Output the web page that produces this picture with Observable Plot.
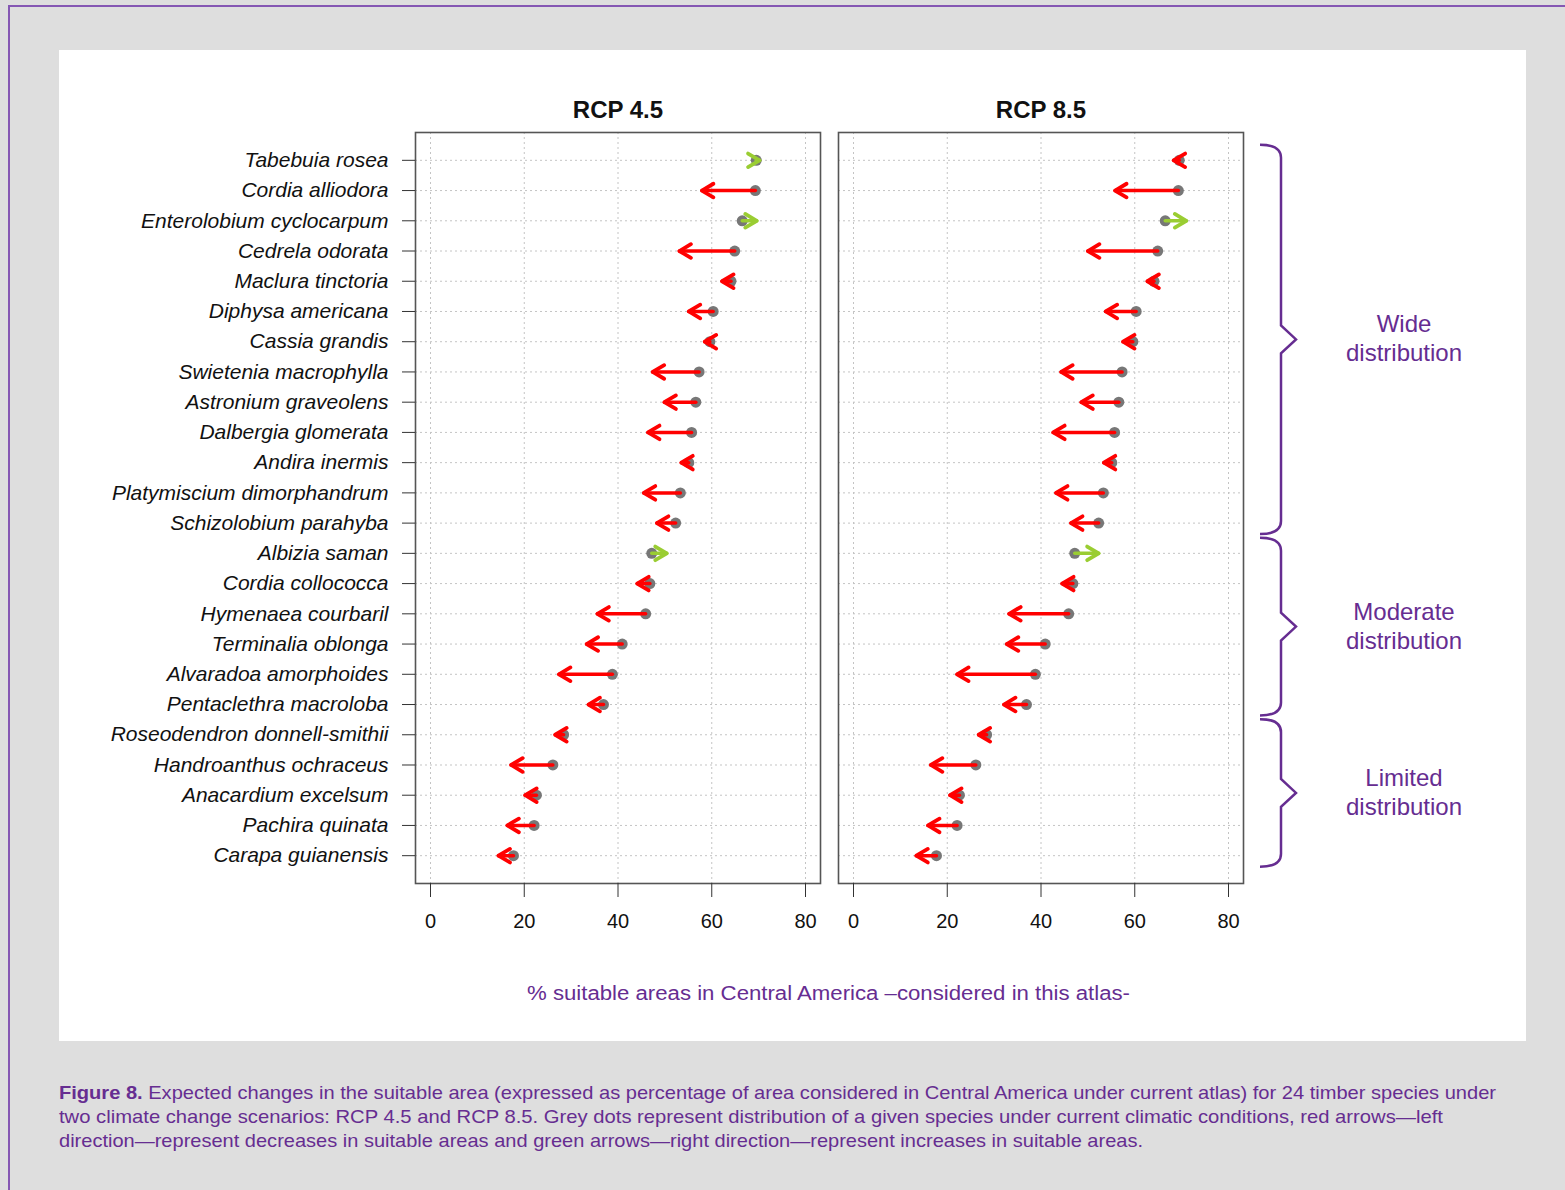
<!DOCTYPE html>
<html>
<head>
<meta charset="utf-8">
<script src="https://cdn.jsdelivr.net/npm/d3@7"></script>
<script src="https://cdn.jsdelivr.net/npm/@observablehq/plot@0.6"></script>
<style>
  html, body { margin: 0; padding: 0; background: #dedede; }
  #page { position: relative; width: 1565px; height: 1190px; background: #dedede; overflow: hidden; font-family: "Liberation Sans", Arial, sans-serif; }
  #border { position: absolute; left: 8px; top: 5px; width: 1700px; height: 1400px; border-left: 2px solid #8557b3; border-top: 2px solid #8557b3; }
  #panel { position: absolute; left: 59px; top: 50px; width: 1467px; height: 991px; background: #fff; }
  #chart { position: absolute; left: 59px; top: 50px; }
  #overlay { position: absolute; left: 0; top: 0; pointer-events: none; }
</style>
</head>
<body>
<div id="page">
  <div id="border"></div>
  <div id="panel"></div>
  <div id="chart"></div>
  <svg id="overlay" width="1565" height="1190"></svg>
</div>
<script>
// ---------------- data ----------------
const scenarios = ["RCP 4.5", "RCP 8.5"];
const species = [
  "Tabebuia rosea", "Cordia alliodora", "Enterolobium cyclocarpum", "Cedrela odorata",
  "Maclura tinctoria", "Diphysa americana", "Cassia grandis", "Swietenia macrophylla",
  "Astronium graveolens", "Dalbergia glomerata", "Andira inermis", "Platymiscium dimorphandrum",
  "Schizolobium parahyba", "Albizia saman", "Cordia collococca", "Hymenaea courbaril",
  "Terminalia oblonga", "Alvaradoa amorphoides", "Pentaclethra macroloba",
  "Roseodendron donnell-smithii", "Handroanthus ochraceus", "Anacardium excelsum",
  "Pachira quinata", "Carapa guianensis"
];
// % suitable area under current climate
const current = [69.5, 69.3, 66.5, 64.9, 64.1, 60.3, 59.6, 57.3, 56.6, 55.7, 55.1, 53.3,
                 52.3, 47.2, 46.8, 45.9, 40.9, 38.8, 36.9, 28.4, 26.1, 22.6, 22.1, 17.7];
// % suitable area in the future, RCP 4.5
const future45 = [70.2, 57.9, 69.6, 53.1, 62.2, 55.1, 58.5, 47.4, 49.9, 46.4, 53.5, 45.5,
                  48.3, 50.4, 44.1, 35.6, 33.3, 27.4, 33.7, 26.6, 17.2, 20.2, 16.4, 14.5];
// % suitable area in the future, RCP 8.5
const future85 = [68.3, 55.8, 71.0, 50.0, 62.7, 53.8, 57.5, 44.3, 48.6, 42.6, 53.4, 43.2,
                  46.4, 52.3, 44.5, 33.2, 32.7, 22.1, 32.1, 26.7, 16.5, 20.6, 15.9, 13.4];
const xTicks = [0, 20, 40, 60, 80];
const groups = [
  { label: ["Wide", "distribution"], from: "Tabebuia rosea", to: "Schizolobium parahyba" },
  { label: ["Moderate", "distribution"], from: "Albizia saman", to: "Pentaclethra macroloba" },
  { label: ["Limited", "distribution"], from: "Roseodendron donnell-smithii", to: "Carapa guianensis" }
];
const axisTitle = "% suitable areas in Central America \u2013considered in this atlas-";
const captionBold = "Figure 8.";
const captionLines = [
  " Expected changes in the suitable area (expressed as percentage of area considered in Central America under current atlas) for 24 timber species under",
  "two climate change scenarios: RCP 4.5 and RCP 8.5. Grey dots represent distribution of a given species under current climatic conditions, red arrows\u2014left",
  "direction\u2014represent decreases in suitable areas and green arrows\u2014right direction\u2014represent increases in suitable areas."
];

// ---------------- build table ----------------
const futures = { "RCP 4.5": future45, "RCP 8.5": future85 };
const rows = [];
for (const s of scenarios) {
  species.forEach((sp, i) => rows.push({ scenario: s, species: sp, current: current[i], future: futures[s][i] }));
}
const dec = rows.filter(d => d.future < d.current);
const inc = rows.filter(d => d.future >= d.current);

const RED = "#ff0000", GREEN = "#9acd32", GREY = "#777777", PURPLE = "#662d91";
const leftHead = { draw(ctx) { ctx.moveTo(11.5, -6.8); ctx.lineTo(0, 0); ctx.lineTo(11.5, 6.8); } };
const rightHead = { draw(ctx) { ctx.moveTo(-11.5, -6.8); ctx.lineTo(0, 0); ctx.lineTo(-11.5, 6.8); } };

const W = 1467, H = 900;
const chart = Plot.plot({
  width: W, height: H,
  marginLeft: 356, marginRight: 283, marginTop: 82, marginBottom: 67,
  style: { fontFamily: "'Liberation Sans', Arial, sans-serif", background: "transparent", color: "#111", overflow: "visible" },
  fx: { domain: scenarios, paddingInner: 0.0426, paddingOuter: 0 },
  x: { domain: [-3.2, 83.2] },
  y: { type: "point", domain: species, padding: 0.92, round: false },
  marks: [
    Plot.gridX({ ticks: xTicks, stroke: "#c4c4c4", strokeOpacity: 1, strokeWidth: 1, strokeDasharray: "2,3" }),
    Plot.gridY({ stroke: "#c4c4c4", strokeOpacity: 1, strokeWidth: 1, strokeDasharray: "2,3" }),
    Plot.frame({ stroke: "#555", strokeWidth: 1.6 }),
    Plot.axisFx({ anchor: "top", label: null, tickSize: 0, tickPadding: 15, fontSize: 24, fontWeight: "bold" }),
    Plot.axisY({ label: null, tickSize: 13, tickPadding: 14, fontSize: 21, fontStyle: "italic", stroke: "#333" }),
    Plot.axisX({ ticks: xTicks, label: null, tickSize: 14, tickPadding: 16, fontSize: 20, stroke: "#333" }),
    Plot.dot(rows, { x: "current", y: "species", fx: "scenario", r: 5.5, fill: GREY }),
    Plot.link(dec, { x1: "current", x2: "future", y1: "species", y2: "species", fx: "scenario",
                     stroke: RED, strokeWidth: 3.5, strokeLinecap: "round" }),
    Plot.link(inc, { x1: "current", x2: "future", y1: "species", y2: "species", fx: "scenario",
                     stroke: GREEN, strokeWidth: 3.5, strokeLinecap: "round" }),
    Plot.dot(dec, { x: "future", y: "species", fx: "scenario", symbol: leftHead, r: 6,
                    fill: "none", stroke: RED, strokeWidth: 3.8, strokeLinecap: "round", strokeLinejoin: "round" }),
    Plot.dot(inc, { x: "future", y: "species", fx: "scenario", symbol: rightHead, r: 6,
                    fill: "none", stroke: GREEN, strokeWidth: 3.8, strokeLinecap: "round", strokeLinejoin: "round" })
  ]
});
document.getElementById("chart").appendChild(chart);

// ---------------- annotations ----------------
const yScale = chart.scale("y");
const yOf = sp => 50 + (yScale && yScale.apply ? yScale.apply(sp)
  : (82 + (H - 82 - 67) * (species.indexOf(sp) + 0.92) / (species.length - 1 + 1.84)));
const step = yOf(species[1]) - yOf(species[0]);

const svg = d3.select("#overlay");
const frameRight = 59 + W - 283;   // right edge of second panel
const x0 = frameRight + 17, xs = x0 + 21, xt = xs + 15;
groups.forEach((g) => {
  const t = yOf(g.from) - step * 0.5;
  const b = yOf(g.to) + step * 0.38;
  const m = (t + b) / 2;
  const p = d3.path();
  p.moveTo(x0, t);
  p.quadraticCurveTo(xs, t, xs, t + 13);
  p.lineTo(xs, m - 14);
  p.lineTo(xt, m);
  p.lineTo(xs, m + 14);
  p.lineTo(xs, b - 13);
  p.quadraticCurveTo(xs, b, x0, b);
  svg.append("path").attr("d", p.toString()).attr("fill", "none")
    .attr("stroke", PURPLE).attr("stroke-width", 2.5);
  const tx = svg.append("text").attr("text-anchor", "middle")
    .attr("fill", PURPLE).attr("font-size", 24)
    .attr("font-family", "'Liberation Sans', Arial, sans-serif");
  g.label.forEach((l, j) => {
    tx.append("tspan").attr("x", 1404).attr("y", m - 14 + j * 29 + 7).text(l);
  });
});

// x-axis title
svg.append("text").attr("x", 527).attr("y", 1000)
  .attr("fill", PURPLE).attr("font-size", 20)
  .attr("font-family", "'Liberation Sans', Arial, sans-serif")
  .attr("textLength", 603).attr("lengthAdjust", "spacingAndGlyphs")
  .text(axisTitle);

// caption
const capWidths = [1437, 1384, 1084];
const capBase = [1099, 1123, 1147];
captionLines.forEach((line, i) => {
  const t = svg.append("text").attr("x", 59).attr("y", capBase[i])
    .attr("fill", PURPLE).attr("font-size", 19)
    .attr("font-family", "'Liberation Sans Narrow', 'Liberation Sans', Arial, sans-serif")
    .attr("textLength", capWidths[i]).attr("lengthAdjust", "spacingAndGlyphs");
  if (i === 0) t.append("tspan").attr("font-weight", "bold").text(captionBold);
  t.append("tspan").text(line);
});
</script>
</body>
</html>
